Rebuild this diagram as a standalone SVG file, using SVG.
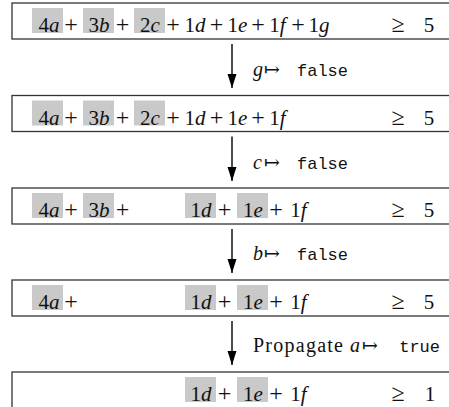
<svg xmlns="http://www.w3.org/2000/svg" width="449" height="407" viewBox="0 0 449 407">
<style>
.box{fill:none;stroke:#333;stroke-width:1.3}
.hl{fill:#c9c9c9}
.m{font-family:'Liberation Serif','Times New Roman',Times,serif;font-size:21px;fill:#111;text-anchor:middle}
.p{font-size:24px}
.i{font-style:italic}
.lb{font-family:'Liberation Serif','Times New Roman',Times,serif;font-size:20px;fill:#111}
.sym{font-family:'DejaVu Serif','DejaVu Sans',serif;font-size:19px}
.tt{font-family:'Liberation Mono','Courier New',monospace;font-size:17px;fill:#111}
.ar{stroke:#000;stroke-width:1.4;fill:none;marker-end:url(#ah)}
</style>
<defs>
<marker id="ah" markerUnits="userSpaceOnUse" markerWidth="16" markerHeight="12" refX="14" refY="5" orient="auto" viewBox="0 0 16 10">
<path d="M0,0.5 L14,5 L0,9.5 z" fill="#000"/>
</marker>
</defs>
<rect width="449" height="407" fill="#fff"/>

<g id="row1">
<rect class="box" x="12" y="3" width="460" height="36"/>
<rect class="hl" x="32" y="8" width="31" height="25"/>
<rect class="hl" x="83" y="8" width="31" height="25"/>
<rect class="hl" x="134" y="8" width="31" height="25"/>
<g class="m">
<text x="49" y="32">4<tspan class="i">a</tspan></text>
<text class="p" x="71" y="32">+</text>
<text x="99" y="32">3<tspan class="i">b</tspan></text>
<text class="p" x="122.5" y="32">+</text>
<text x="150" y="32">2<tspan class="i">c</tspan></text>
<text class="p" x="173" y="32">+</text>
<text x="195" y="32">1<tspan class="i">d</tspan></text>
<text class="p" x="216.5" y="32">+</text>
<text x="237.5" y="32">1<tspan class="i">e</tspan></text>
<text class="p" x="258" y="32">+</text>
<text x="277.5" y="32">1<tspan class="i">f</tspan></text>
<text class="p" x="298" y="32">+</text>
<text x="319" y="32">1<tspan class="i">g</tspan></text>
<text class="p" x="398" y="32">≥</text>
<text x="429" y="32">5</text>
</g>
</g>

<g id="row2">
<rect class="box" x="12" y="95.5" width="460" height="36"/>
<rect class="hl" x="32" y="100.5" width="31" height="25"/>
<rect class="hl" x="83" y="100.5" width="31" height="25"/>
<rect class="hl" x="134" y="100.5" width="31" height="25"/>
<g class="m">
<text x="49" y="124.5">4<tspan class="i">a</tspan></text>
<text class="p" x="71" y="124.5">+</text>
<text x="99" y="124.5">3<tspan class="i">b</tspan></text>
<text class="p" x="122.5" y="124.5">+</text>
<text x="150" y="124.5">2<tspan class="i">c</tspan></text>
<text class="p" x="173" y="124.5">+</text>
<text x="195" y="124.5">1<tspan class="i">d</tspan></text>
<text class="p" x="216.5" y="124.5">+</text>
<text x="237.5" y="124.5">1<tspan class="i">e</tspan></text>
<text class="p" x="258" y="124.5">+</text>
<text x="277.5" y="124.5">1<tspan class="i">f</tspan></text>
<text class="p" x="398" y="124.5">≥</text>
<text x="429" y="124.5">5</text>
</g>
</g>

<g id="row3">
<rect class="box" x="12" y="188" width="460" height="36"/>
<rect class="hl" x="32" y="193" width="31" height="25"/>
<rect class="hl" x="83" y="193" width="31" height="25"/>
<rect class="hl" x="185" y="193" width="31" height="25"/>
<rect class="hl" x="237" y="193" width="31" height="25"/>
<g class="m">
<text x="49" y="217">4<tspan class="i">a</tspan></text>
<text class="p" x="71" y="217">+</text>
<text x="99" y="217">3<tspan class="i">b</tspan></text>
<text class="p" x="122.5" y="217">+</text>
<text x="201" y="217">1<tspan class="i">d</tspan></text>
<text class="p" x="224.5" y="217">+</text>
<text x="253" y="217">1<tspan class="i">e</tspan></text>
<text class="p" x="276" y="217">+</text>
<text x="298.5" y="217">1<tspan class="i">f</tspan></text>
<text class="p" x="398" y="217">≥</text>
<text x="429" y="217">5</text>
</g>
</g>

<g id="row4">
<rect class="box" x="12" y="280" width="460" height="36"/>
<rect class="hl" x="32" y="285" width="31" height="25"/>
<rect class="hl" x="185" y="285" width="31" height="25"/>
<rect class="hl" x="237" y="285" width="31" height="25"/>
<g class="m">
<text x="49" y="309">4<tspan class="i">a</tspan></text>
<text class="p" x="71" y="309">+</text>
<text x="201" y="309">1<tspan class="i">d</tspan></text>
<text class="p" x="224.5" y="309">+</text>
<text x="253" y="309">1<tspan class="i">e</tspan></text>
<text class="p" x="276" y="309">+</text>
<text x="298.5" y="309">1<tspan class="i">f</tspan></text>
<text class="p" x="398" y="309">≥</text>
<text x="429" y="309">5</text>
</g>
</g>

<g id="row5">
<rect class="box" x="12" y="372" width="460" height="60"/>
<rect class="hl" x="185" y="377" width="31" height="25"/>
<rect class="hl" x="237" y="377" width="31" height="25"/>
<g class="m">
<text x="201" y="401">1<tspan class="i">d</tspan></text>
<text class="p" x="224.5" y="401">+</text>
<text x="253" y="401">1<tspan class="i">e</tspan></text>
<text class="p" x="276" y="401">+</text>
<text x="298.5" y="401">1<tspan class="i">f</tspan></text>
<text class="p" x="398" y="401">≥</text>
<text x="430" y="401">1</text>
</g>
</g>

<g id="connectors">
<line class="ar" x1="232" y1="44" x2="232" y2="88"/>
<line class="ar" x1="232" y1="136.5" x2="232" y2="181"/>
<line class="ar" x1="232" y1="229" x2="232" y2="273"/>
<line class="ar" x1="232" y1="321" x2="232" y2="365"/>
<text class="lb" y="76"><tspan class="i" x="253">g</tspan><tspan class="sym" x="264">↦</tspan></text>
<text class="tt" x="297" y="76">false</text>
<text class="lb" y="168.5"><tspan class="i" x="253">c</tspan><tspan class="sym" x="264">↦</tspan></text>
<text class="tt" x="297" y="168.5">false</text>
<text class="lb" y="260"><tspan class="i" x="253">b</tspan><tspan class="sym" x="264">↦</tspan></text>
<text class="tt" x="297" y="260">false</text>
<text class="lb" y="352"><tspan x="253" textLength="90">Propagate</tspan><tspan class="i" x="350">a</tspan><tspan class="sym" x="362">↦</tspan></text>
<text class="tt" x="440" y="352" text-anchor="end">true</text>
</g>
</svg>
